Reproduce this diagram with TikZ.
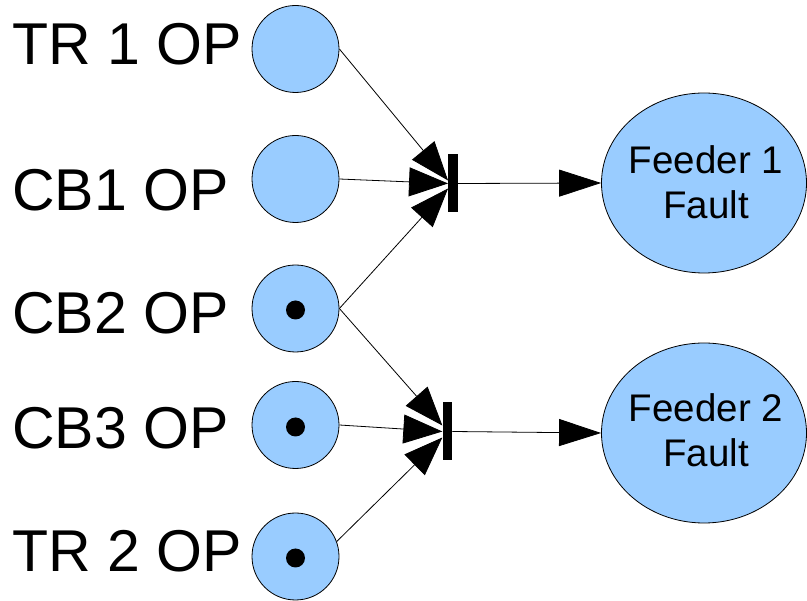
\documentclass[tikz,border=0pt]{standalone}
\usepackage{fontspec}
\setmainfont{Liberation Sans}
\usetikzlibrary{arrows.meta,shapes.geometric}
\definecolor{placeblue}{HTML}{99CCFF}
\tikzset{
  place/.style={circle,draw=black,line width=0.8pt,fill=placeblue,minimum size=87pt,inner sep=0pt},
  token/.style={circle,fill=black,minimum size=19pt,inner sep=0pt},
  bar/.style={rectangle,fill=black,minimum width=9.5pt,minimum height=58pt,inner sep=0pt},
  goal/.style={ellipse,draw=black,line width=0.8pt,fill=placeblue,minimum width=205pt,minimum height=180pt,inner sep=0pt},
  goaltext/.style={inner sep=0pt,align=center,font=\fontsize{38.5}{45}\selectfont},
  lbl/.style={anchor=base west,inner sep=0pt,font=\fontsize{59}{70}\selectfont},
  arc/.style={line width=0.8pt,-{Triangle[length=39pt,width=29pt]}},
  outarc/.style={line width=0.8pt,-{Triangle[length=42pt,width=27pt]}},
}
\begin{document}
\begin{tikzpicture}[x=1pt,y=-1pt]
\useasboundingbox (0,0) rectangle (807,601);
% places
\node[place] (tr1) at (295.5,49) {};
\node[place] (cb1) at (295.5,179) {};
\node[place] (cb2) at (295.5,308.5) {};
\node[place] (cb3) at (295.5,425) {};
\node[place] (tr2) at (295.5,556.5) {};
% tokens
\node[token] (k2) at (295.5,310) {};
\node[token] (k3) at (295.5,427) {};
\node[token] (k5) at (295.5,558) {};
% labels
\node[lbl] (ltr1) at (12.5,65) {TR 1 OP};
\node[lbl] (lcb1) at (12,211) {CB1 OP};
\node[lbl] (lcb2) at (12,334) {CB2 OP};
\node[lbl] (lcb3) at (12,448.3) {CB3 OP};
\node[lbl] (ltr2) at (12.5,571.7) {TR 2 OP};
% transitions
\node[bar] (t1) at (453,183.5) {};
\node[bar] (t2) at (447.3,431.5) {};
% goals
\node[goal] (f1) at (704,183) {};
\node[goaltext] (f1t) at (706,182.5) {Feeder 1\\Fault};
\node[goal] (f2) at (704,433) {};
\node[goaltext] (f2t) at (706,430) {Feeder 2\\Fault};
% arcs
\draw[arc] (tr1.east) -- ([yshift=3pt]t1.west);
\draw[arc] (cb1.east) -- (t1.west);
\draw[arc] (cb2.east) -- ([yshift=-5pt]t1.west);
\draw[arc] (cb2.east) -- ([yshift=6pt]t2.west);
\draw[arc] (cb3.east) -- (t2.west);
\draw[arc] (tr2.20) -- ([yshift=-6pt]t2.west);
\draw[outarc] (t1.east) -- (f1.west);
\draw[outarc] (t2.east) -- (f2.west);
\end{tikzpicture}
\end{document}
